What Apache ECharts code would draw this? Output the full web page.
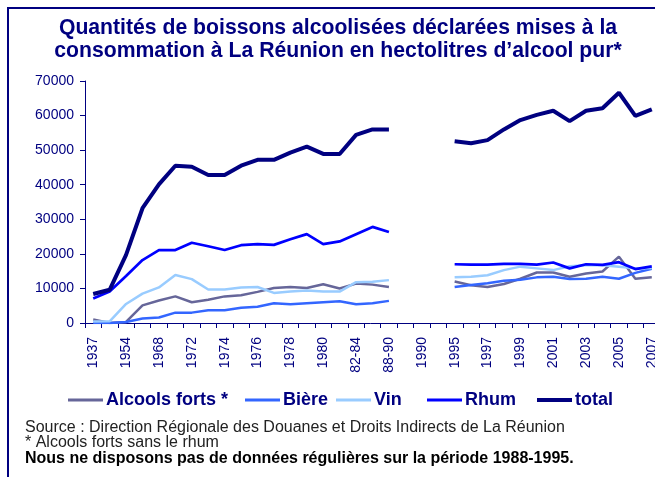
<!DOCTYPE html>
<html>
<head>
<meta charset="utf-8">
<script src="https://cdn.jsdelivr.net/npm/echarts@6/dist/echarts.min.js"></script>
<style>
html,body{margin:0;padding:0;background:#fff;}
#chart{width:655px;height:477px;}
</style>
</head>
<body>
<div id="chart"></div>
<script>
var categories = ['1937','1950','1954','1960','1968','1970','1972','1973','1974','1975','1976','1977','1978','1979','1980','1981','82-84','85-87','88-90','1989','1990','1992','1995','1996','1997','1998','1999','2000','2001','2002','2003','2004','2005','2006','2007'];
var yTicks = [0, 10000, 20000, 30000, 40000, 50000, 60000, 70000];

var alcoolsForts = [1000, 0, 300, 5100, 6500, 7700, 6000, 6700, 7700, 8000, 9000, 10100, 10400, 10100, 11200, 10000, 11400, 11100, 10400, null, null, null, 12000, 10900, 10400, 11300, 12800, 14600, 14600, 13400, 14300, 14900, 19200, 12800, 13200];
var biere = [0, 0, 300, 1300, 1600, 3000, 3000, 3700, 3700, 4400, 4700, 5700, 5400, 5700, 6000, 6300, 5400, 5700, 6400, null, null, null, 10400, 11000, 11500, 12200, 12500, 13200, 13400, 12700, 12800, 13400, 12800, 14500, 15700];
var vin = [400, 500, 5500, 8500, 10300, 13900, 12700, 9700, 9700, 10300, 10400, 8700, 9100, 9400, 9100, 9100, 11800, 11900, 12400, null, null, null, 13200, 13400, 13800, 15300, 16300, 15800, 15300, 16400, 16700, 16700, 16300, 15800, 15900];
var rhum = [7100, 9100, 13600, 18200, 21100, 21100, 23200, 22200, 21100, 22500, 22800, 22600, 24200, 25700, 22800, 23600, 25700, 27800, 26300, null, null, null, 17000, 16900, 16900, 17100, 17100, 16900, 17500, 15800, 17000, 16800, 17600, 15600, 16400];
var total = [8400, 9600, 19700, 33200, 40100, 45500, 45200, 42800, 42800, 45500, 47200, 47200, 49300, 51000, 48900, 48900, 54400, 56000, 56000, null, null, null, 52600, 52000, 52900, 56000, 58700, 60200, 61400, 58400, 61400, 62100, 66600, 59900, 61800];

var seriesNames = ['Alcools forts *', 'Bière', 'Vin', 'Rhum', 'total'];
var seriesData = [alcoolsForts, biere, vin, rhum, total];
var seriesColors = ['#666699', '#3366FF', '#99CCFF', '#0000FF', '#000080'];
var seriesWidths = [2.5, 2.5, 2.5, 2.7, 4];
var legendLeft = [68, 245, 336, 427, 537];

var navy = '#000080';
var FONT = 'Liberation Sans, Arial, sans-serif';

var chart = echarts.init(document.getElementById('chart'), null, {renderer: 'canvas'});

var legends = seriesNames.map(function (n, i) {
  var h = i === 4 ? 4 : 3;
  return {
    data: [{name: n, icon: 'rect'}],
    left: legendLeft[i],
    top: 400 - 9,
    itemWidth: 35,
    itemHeight: h,
    itemGap: 0,
    padding: 0,
    textStyle: {color: navy, fontSize: 18, fontWeight: 'bold', fontFamily: FONT, padding: [0, 0, 0, -2], lineHeight: 18}
  };
});

var series = seriesNames.map(function (n, i) {
  return {
    name: n,
    type: 'line',
    data: seriesData[i],
    symbol: 'none',
    connectNulls: false,
    lineStyle: {color: seriesColors[i], width: seriesWidths[i]},
    itemStyle: {color: seriesColors[i]},
    emphasis: {disabled: true},
    animation: false
  };
});

chart.setOption({
  animation: false,
  backgroundColor: '#fff',
  grid: {left: 85, right: -5, top: 81, bottom: 154, containLabel: false, outerBoundsMode: 'none'},
  legend: legends,
  xAxis: {
    type: 'category',
    data: categories,
    boundaryGap: true,
    axisLine: {lineStyle: {color: navy, width: 1}},
    axisTick: {show: true, interval: 0, length: 5, lineStyle: {color: navy}},
    axisLabel: {interval: 1, rotate: 90, margin: 14, color: navy, fontSize: 14, fontFamily: FONT, hideOverlap: false}
  },
  yAxis: {
    type: 'value',
    min: yTicks[0],
    max: yTicks[yTicks.length - 1],
    interval: yTicks[1] - yTicks[0],
    splitLine: {show: false},
    axisLine: {show: true, lineStyle: {color: navy, width: 1}},
    axisTick: {show: true, length: 5, lineStyle: {color: navy}},
    axisLabel: {margin: 11, color: navy, fontSize: 14, fontFamily: FONT, formatter: function (v) { return String(v); }}
  },
  graphic: [
    {type: 'rect', shape: {x: 8, y: 8, width: 700, height: 520}, style: {fill: null, stroke: navy, lineWidth: 2}, silent: true},
    {type: 'text', x: 338, y: 17, style: {text: 'Quantités de boissons alcoolisées déclarées mises à la\nconsommation à La Réunion en hectolitres d\u2019alcool pur*', textAlign: 'center', textVerticalAlign: 'top', fill: navy, font: 'bold 21.2px ' + FONT, lineHeight: 22.5}},
    {type: 'text', x: 25, y: 428, style: {text: 'Source : Direction Régionale des Douanes et Droits Indirects de La Réunion', textVerticalAlign: 'middle', fill: '#222', font: '16px ' + FONT}},
    {type: 'text', x: 25, y: 443, style: {text: '* Alcools forts sans le rhum', textVerticalAlign: 'middle', fill: '#222', font: '16px ' + FONT}},
    {type: 'text', x: 25, y: 459, style: {text: 'Nous ne disposons pas de données régulières sur la période 1988-1995.', textVerticalAlign: 'middle', fill: '#000', font: 'bold 16px ' + FONT}}
  ],
  series: series
});
</script>
</body>
</html>
